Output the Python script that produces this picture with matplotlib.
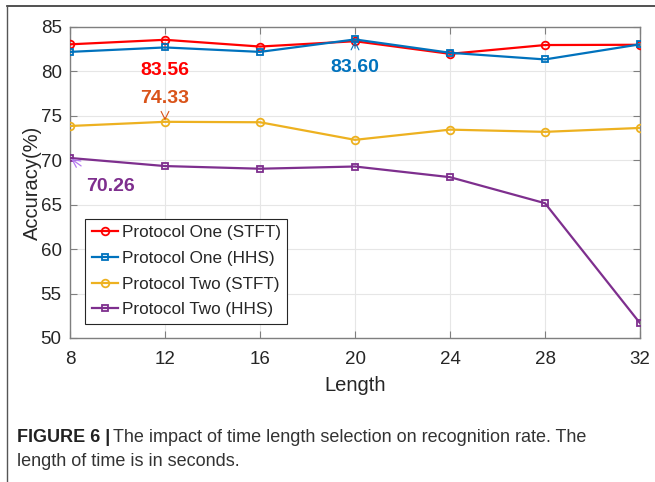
import matplotlib
matplotlib.use("Agg")
import matplotlib.pyplot as plt
from matplotlib.lines import Line2D

lengths = [8, 12, 16, 20, 24, 28, 32]
p1_stft = [83.05, 83.56, 82.8, 83.4, 81.98, 82.97, 83.0]
p1_hhs = [82.2, 82.7, 82.2, 83.60, 82.1, 81.35, 83.05]
p2_stft = [73.86, 74.33, 74.28, 72.3, 73.45, 73.2, 73.64]
p2_hhs = [70.26, 69.35, 69.05, 69.3, 68.1, 65.17, 51.67]
series_names = ["Protocol One (STFT)", "Protocol One (HHS)",
                "Protocol Two (STFT)", "Protocol Two (HHS)"]
yticks = [50, 55, 60, 65, 70, 75, 80, 85]

plt.rcParams['font.family'] = ['Liberation Sans', 'DejaVu Sans']

fig = plt.figure(figsize=(6.55, 4.82), dpi=100)
ax = fig.add_axes([70/655, 1-338/482, 570/655, 311/482])

c_red, c_blue, c_yel, c_pur = '#FF0000', '#0072BD', '#EDB120', '#7E2F8E'
ax.plot(lengths, p1_stft, color=c_red, lw=1.6, marker='o', ms=5.5, mfc='none', mew=1.3, label=series_names[0], zorder=3)
ax.plot(lengths, p1_hhs, color=c_blue, lw=1.6, marker='s', ms=4.5, mfc='none', mew=1.3, label=series_names[1], zorder=4)
ax.plot(lengths, p2_stft, color=c_yel, lw=1.6, marker='o', ms=5.5, mfc='none', mew=1.3, label=series_names[2], zorder=3)
ax.plot(lengths, p2_hhs, color=c_pur, lw=1.6, marker='s', ms=4.5, mfc='none', mew=1.3, label=series_names[3], zorder=3)

ax.set_xlim(8, 32)
ax.set_ylim(50, 85)
ax.set_xticks(lengths)
ax.set_yticks(yticks)
ax.grid(True, color='#E6E6E6', lw=0.8)
ax.set_axisbelow(True)
for s in ax.spines.values():
    s.set_color('#7F7F7F')
    s.set_linewidth(1.0)
ax.tick_params(direction='in', top=True, right=True, length=5, color='#7F7F7F',
               labelsize=13.5, labelcolor='#262626')
ax.tick_params(axis='x', pad=9)
ax.tick_params(axis='y', pad=6)
ax.set_xlabel('Length', fontsize=14.5, color='#262626', labelpad=6)
ax.set_ylabel('Accuracy(%)', fontsize=14.5, color='#262626', labelpad=-1)

# annotations
ax.annotate('83.56', xy=(12, p1_stft[1]), xytext=(12, 80.15), ha='center', va='center',
            color=c_red, fontsize=14, fontweight='bold',
            arrowprops=dict(arrowstyle='-', color=c_red, lw=0.6, shrinkA=6, shrinkB=2))
ax.annotate('74.33', xy=(12, p2_stft[1]), xytext=(12, 77.0), ha='center', va='center',
            color='#D95319', fontsize=14, fontweight='bold',
            arrowprops=dict(arrowstyle='->', color='#D95319', lw=0.8, shrinkA=6, shrinkB=1))
ax.annotate('83.60', xy=(20, p1_hhs[3]), xytext=(20, 80.4), ha='center', va='center',
            color=c_blue, fontsize=14, fontweight='bold',
            arrowprops=dict(arrowstyle='->', color=c_blue, lw=0.8, shrinkA=6, shrinkB=1))
ax.annotate('70.26', xy=(8, p2_hhs[0]), xytext=(9.7, 67.0), ha='center', va='center',
            color=c_pur, fontsize=14, fontweight='bold',
            arrowprops=dict(arrowstyle='->', color='#B57AF0', lw=0.9, shrinkA=12, shrinkB=1))

leg = ax.legend(loc='lower left', bbox_to_anchor=(0.026, 0.045), fontsize=12.3,
                frameon=True, fancybox=False, edgecolor='#262626', framealpha=1,
                borderpad=0.4, labelspacing=0.62, handlelength=1.55, handletextpad=0.2,
                borderaxespad=0)
leg.get_frame().set_linewidth(0.8)
for t in leg.get_texts():
    t.set_color('#262626')

# outer frame lines
fig.add_artist(Line2D([7/655, 1], [1-6/482, 1-6/482], color='#333333', lw=1.2))
fig.add_artist(Line2D([7/655, 7/655], [0, 1-6/482], color='#555555', lw=1.0))

# caption
cap_fs = 13.0
t1 = fig.text(17/655, 1-437/482, 'FIGURE 6 |', fontsize=cap_fs, fontweight='bold',
              color='#222222', va='center', ha='left')
fig.canvas.draw()
bb = t1.get_window_extent()
fig.text((bb.x1 + 3)/655, 1-437/482, 'The impact of time length selection on recognition rate. The',
         fontsize=cap_fs, color='#333333', va='center', ha='left')
fig.text(17/655, 1-462/482, 'length of time is in seconds.', fontsize=cap_fs,
         color='#333333', va='center', ha='left')

fig.savefig('out.png', dpi=100)
